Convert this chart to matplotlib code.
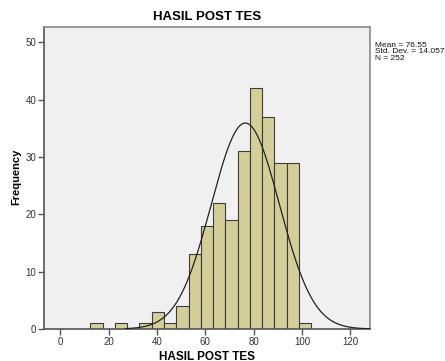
import numpy as np
import matplotlib
matplotlib.use("Agg")
import matplotlib.pyplot as plt

plt.rcParams['font.family'] = ['Liberation Sans', 'DejaVu Sans']

bin_start = 12.5
bin_width = 5.07
counts = [1, 0, 1, 0, 1, 3, 1, 4, 13, 18, 22, 19, 31, 42, 37, 29, 29, 1]
mean, sd, n = 76.55, 14.057, 252
xticks = [0, 20, 40, 60, 80, 100, 120]
yticks = [0, 10, 20, 30, 40, 50]

edges = bin_start + bin_width * np.arange(len(counts) + 1)

fig = plt.figure(figsize=(4.45, 3.61), dpi=100)
ax = fig.add_axes([0.0989, 0.0886, 0.732, 0.836])
ax.set_facecolor('#f0f0f0')

for i, c in enumerate(counts):
    if c > 0:
        ax.bar(edges[i], c, width=bin_width, align='edge', color='#d4cf98',
               edgecolor='#3c3c3c', linewidth=0.8, zorder=2)

xs = np.linspace(27, 128, 400)
ys = n * 5.02 / (sd * np.sqrt(2 * np.pi)) * np.exp(-0.5 * ((xs - mean) / sd) ** 2)
ax.plot(xs, ys, color='#222222', linewidth=0.9, zorder=3)

ax.set_xlim(-6.7, 128)
ax.set_ylim(0, 52.6)
ax.set_xticks(xticks)
ax.set_yticks(yticks)
ax.tick_params(direction='out', length=4, width=1, colors='#555555', labelsize=7,
               labelcolor='#333333', pad=1.5)
for s in ['left', 'bottom']:
    ax.spines[s].set_color('#555555')
    ax.spines[s].set_linewidth(1.2)
for s in ['top', 'right']:
    ax.spines[s].set_color('#8a8a8a')
    ax.spines[s].set_linewidth(1.2)

ax.set_title('HASIL POST TES', fontsize=9.5, fontweight='bold', pad=5)
fig.text(0.466, 1.5 / 361, 'HASIL POST TES', fontsize=8.5, fontweight='bold',
         ha='center', va='baseline')
fig.text(16.5 / 445, 0.51, 'Frequency', fontsize=8, fontweight='bold',
         rotation=90, ha='center', va='center')

fig.text(0.843, 0.885, 'Mean = 76.55\nStd. Dev. = 14.057\nN = 252', fontsize=6,
         va='top', ha='left', linespacing=0.95, color='#111111')

fig.savefig('out.png', dpi=100, facecolor='white')
